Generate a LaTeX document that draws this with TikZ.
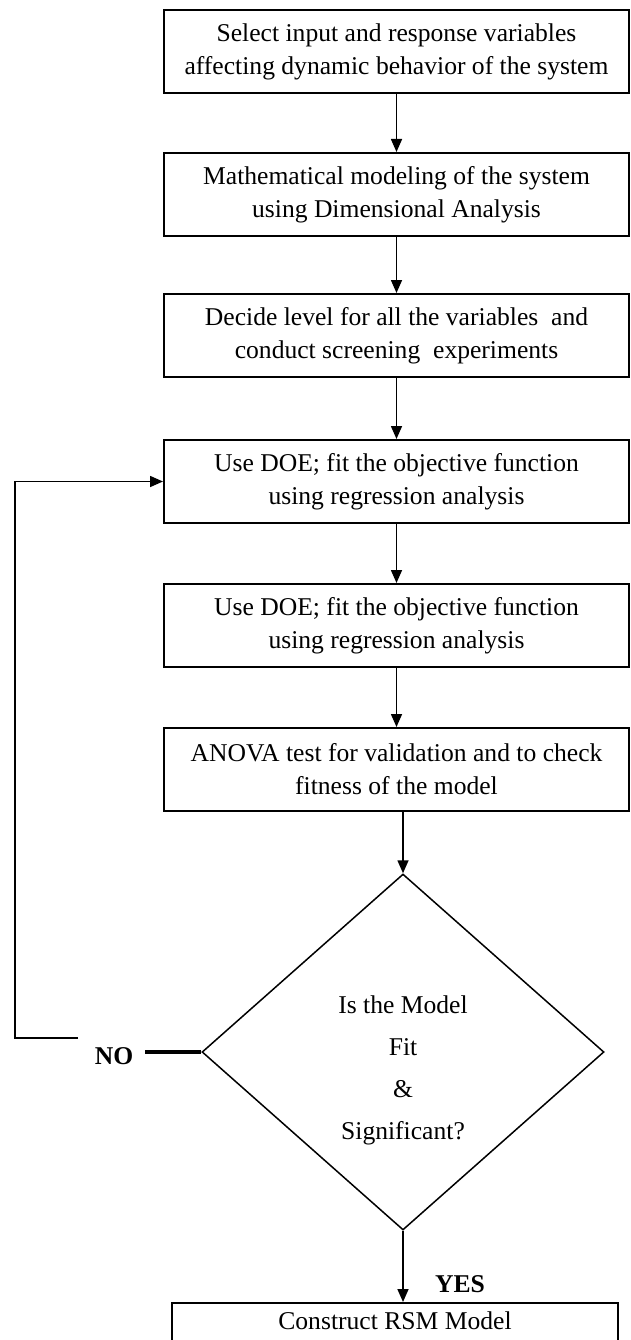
\documentclass[tikz,border=0pt]{standalone}
\usepackage{fontspec}
\setmainfont{Liberation Serif}
\usetikzlibrary{arrows.meta,shapes.geometric}
\begin{document}
\begin{tikzpicture}[x=1pt,y=-1pt,
  stepbox/.style={draw, line width=2pt, minimum width=465pt, minimum height=83pt,
    align=center, inner sep=0pt, font=\fontsize{25.6}{33}\selectfont},
  arr/.style={line width=1.6pt, -{Triangle[width=11pt,length=13pt]}},
  lbl/.style={inner sep=0pt, font=\fontsize{25.6}{30}\selectfont\bfseries},
  decision/.style={draw, diamond, line width=1.5pt, minimum width=402pt,
    minimum height=356pt, inner sep=0pt}]
\clip (0,0) rectangle (631,1340);
\fill[white] (0,0) rectangle (631,1340);

\node[stepbox] (b1) at (396.5,51.5) {Select input and response variables\\affecting dynamic behavior of the system};
\node[stepbox] (b2) at (396.5,194.5) {Mathematical modeling of the system\\using Dimensional Analysis};
\node[stepbox] (b3) at (396.5,335.5) {Decide level for all the variables\ \ and\\conduct screening\ \ experiments};
\node[stepbox] (b4) at (396.5,481.5) {Use DOE; fit the objective function\\using regression analysis};
\node[stepbox] (b5) at (396.5,625.5) {Use DOE; fit the objective function\\using regression analysis};
\node[stepbox] (b6) at (396.5,769.5) {ANOVA test for validation and to check\\fitness of the model};

\node[decision] (d) at (403,1052) {};
\node[align=center, inner sep=0pt, font=\fontsize{25.6}{42}\selectfont] (dt) at (403,1070)
  {Is the Model\\Fit\\\&\\Significant?};

\node[stepbox, minimum width=446pt, minimum height=60pt, anchor=north] (b7) at (395,1302) {};
\node[inner sep=0pt, font=\fontsize{25.6}{33}\selectfont] (b7t) at (395,1321) {Construct RSM Model};

\node[lbl, inner xsep=12pt] (no) at (114,1056) {NO};
\node[lbl] (yes) at (460,1284) {YES};
\coordinate (fb) at (78,1038);

\draw[arr] (b1) -- (b2);
\draw[arr] (b2) -- (b3);
\draw[arr] (b3) -- (b4);
\draw[arr] (b4) -- (b5);
\draw[arr] (b5) -- (b6);
\draw[arr] (b6.south -| d.north) -- (d.north);
\draw[arr] (d.south) -- (d.south |- b7.north);
\draw[line width=3.5pt] (no.east |- d.west) -- (d.west);
\draw[arr] (fb) -- (15,1038) |- (b4.west);
\end{tikzpicture}
\end{document}
